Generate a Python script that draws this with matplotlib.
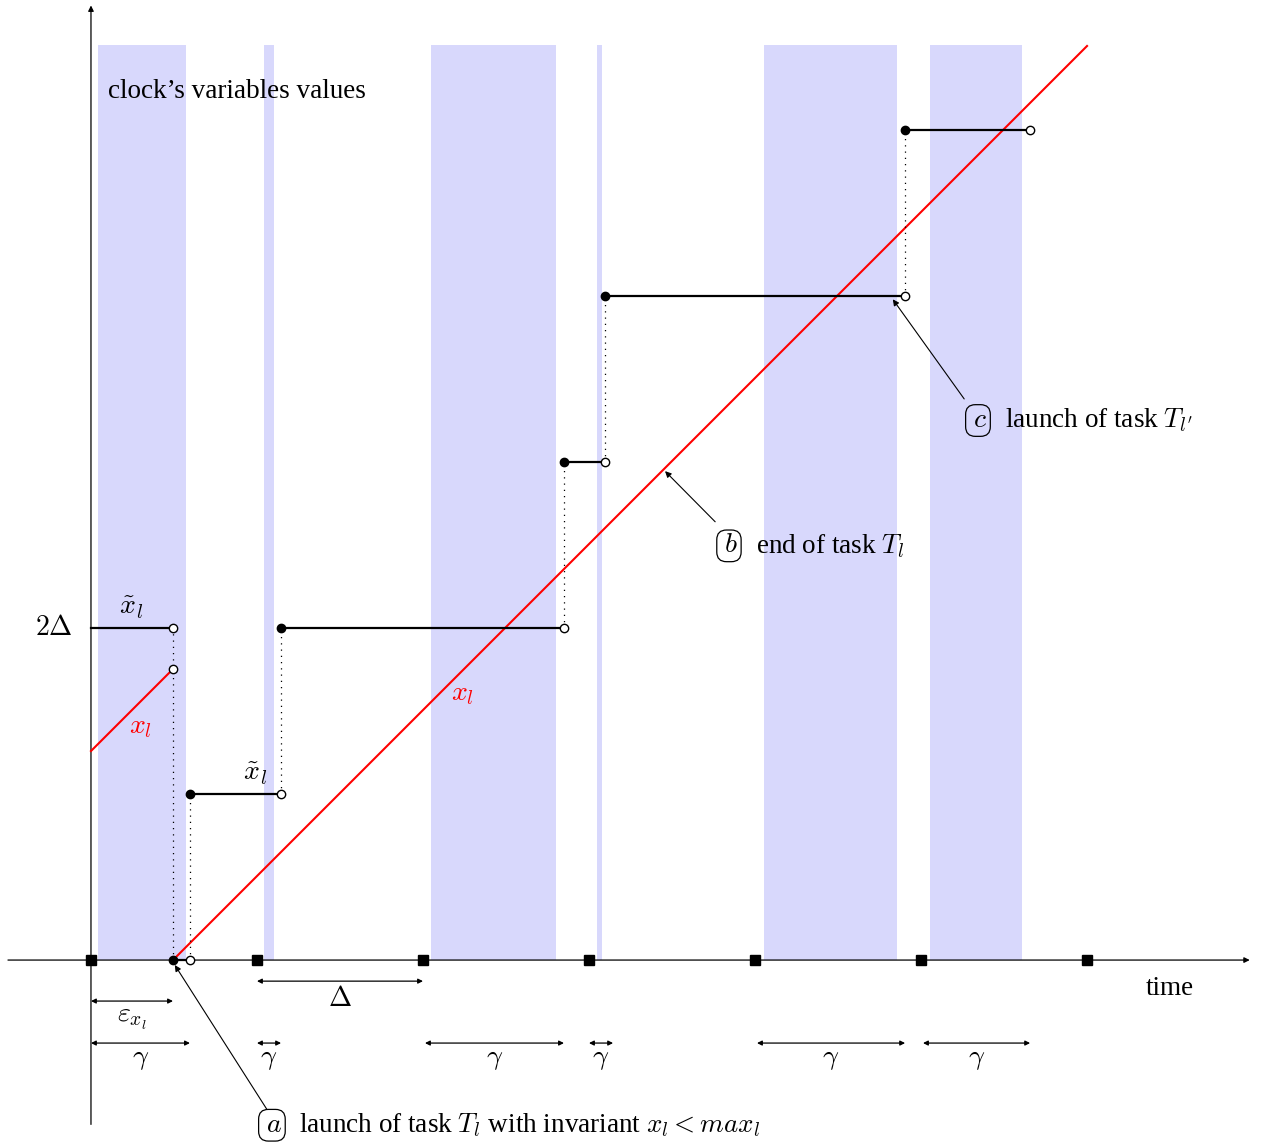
import matplotlib
matplotlib.use("Agg")
import matplotlib.pyplot as plt

plt.rcParams['font.family'] = ['Liberation Serif', 'DejaVu Serif']
plt.rcParams['mathtext.fontset'] = 'cm'

# time unit = Delta
tick_times = [0, 1, 2, 3, 4, 5, 6]
bands = [(0.042, 0.572), (1.042, 1.102), (2.048, 2.801),
         (3.048, 3.078), (4.054, 4.855), (5.054, 5.608)]
band_top = 5.51

# red clock x_l
red_old_t = [0.0, 0.494]
red_old_v = [1.259, 1.753]
red_new_t = [0.494, 6.0]
red_new_v = [0.0, 5.506]

# steps of x~_l : (start, end, value)
step_start = [0.0, 0.596, 1.145, 2.849, 3.096, 4.904]
step_end = [0.494, 1.145, 2.849, 3.096, 4.904, 5.657]
step_val = [2, 1, 2, 3, 4, 5]

# gamma intervals
gamma_iv = [(0.0, 0.596), (1.0, 1.145), (2.012, 2.849),
            (3.0, 3.145), (4.012, 4.904), (5.012, 5.657)]
eps_iv = (0.0, 0.494)

fig = plt.figure(figsize=(12.66, 11.44), dpi=100)
ax = fig.add_axes([0, 0, 1, 1])
ax.set_xlim(-0.548, 7.078)
ax.set_ylim(-1.108, 5.783)
ax.axis('off')

for a, b in bands:
    ax.fill_between([a, b], 0, band_top, color='#d8d8fc', lw=0, zorder=0)

# axes arrows
ax.annotate('', xy=(6.98, 0), xytext=(-0.5, 0),
            arrowprops=dict(arrowstyle='-|>', lw=0.9, color='black',
                            mutation_scale=8, shrinkA=0, shrinkB=0), zorder=2)
ax.annotate('', xy=(0, 5.75), xytext=(0, -0.99),
            arrowprops=dict(arrowstyle='-|>', lw=0.9, color='black',
                            mutation_scale=8, shrinkA=0, shrinkB=0), zorder=2)
ax.plot(tick_times, [0] * len(tick_times), 's', color='black', ms=7, zorder=3)

# red lines
ax.plot(red_old_t, red_old_v, color='red', lw=1.5, zorder=3)
ax.plot(red_new_t, red_new_v, color='red', lw=1.5, zorder=3)

# steps
for s, e, v in zip(step_start, step_end, step_val):
    ax.plot([s, e], [v, v], color='black', lw=1.6, zorder=4)
    if s > 0:
        ax.plot(s, v, 'o', color='black', ms=6, zorder=5)
    ax.plot(e, v, 'o', mfc='white', mec='black', mew=1, ms=6, zorder=5)
# reset segment on time axis
ax.plot([0.494, 0.596], [0, 0], color='black', lw=1.6, zorder=4)
ax.plot(0.494, 0, 'o', color='black', ms=6, zorder=5)
ax.plot(0.596, 0, 'o', mfc='white', mec='black', mew=1, ms=6, zorder=5)
ax.plot(0.494, 1.753, 'o', mfc='white', mec='black', mew=1, ms=6, zorder=5)

# dotted verticals
dots = [(0.494, 0, 2), (0.596, 0, 1), (1.145, 1, 2), (2.849, 2, 3),
        (3.096, 3, 4), (4.904, 4, 5)]
for x, y0, y1 in dots:
    ax.plot([x, x], [y0, y1], color='black', lw=0.9, ls=(0, (1, 4)), zorder=3)

fs = 19.5
ms_ = 20
ax.text(0.1, 5.23, "clock\u2019s variables values", fontsize=fs, ha='left', va='center')
ax.text(-0.108, 2.0, r'$2\Delta$', fontsize=ms_, ha='right', va='center')
ax.text(6.5, -0.17, 'time', fontsize=fs, ha='center', va='center')
ax.text(0.24, 2.12, r'$\tilde{x}_l$', fontsize=ms_, ha='center', va='center')
ax.text(0.99, 1.12, r'$\tilde{x}_l$', fontsize=ms_, ha='center', va='center')
ax.text(0.3, 1.4, r'$x_l$', fontsize=ms_, ha='center', va='center', color='red')
ax.text(2.24, 1.6, r'$x_l$', fontsize=ms_, ha='center', va='center', color='red')

# dimension arrows
def dim(a, b, y, label, ly):
    ax.annotate('', xy=(b, y), xytext=(a, y),
                arrowprops=dict(arrowstyle='<|-|>', lw=0.9, color='black',
                                mutation_scale=7, shrinkA=0, shrinkB=0))
    ax.text((a + b) / 2, ly, label, fontsize=ms_, ha='center', va='center')

dim(eps_iv[0], eps_iv[1], -0.247, r'$\varepsilon_{x_l}$', -0.36)
dim(1.0, 2.0, -0.127, r'$\Delta$', -0.24)
for a, b in gamma_iv:
    dim(a, b, -0.5, r'$\gamma$', -0.6)

# callouts
def callout(letter, text, lx, ly, tx, ty, sx, sy):
    ax.text(lx, ly, r'$\,' + letter + r'\,$', fontsize=ms_, ha='center', va='center',
            bbox=dict(boxstyle='round,pad=0.12,rounding_size=0.35', fc='none',
                      ec='black', lw=0.9), zorder=6)
    ax.text(lx + 0.165, ly, text, fontsize=fs, ha='left', va='center', zorder=6)
    ax.annotate('', xy=(tx, ty), xytext=(sx, sy),
                arrowprops=dict(arrowstyle='-|>', lw=0.8, color='black',
                                mutation_scale=9, shrinkA=0, shrinkB=0), zorder=6)

callout('a', r'launch of task $T_l$ with invariant $x_l < max_l$',
        1.09, -0.995, 0.505, -0.03, 1.06, -0.9)
callout('b', r'end of task $T_l$', 3.843, 2.495, 3.458, 2.945, 3.76, 2.64)
callout('c', r"launch of task $T_{l'}$", 5.343, 3.25, 4.83, 3.98, 5.26, 3.38)

fig.savefig('out.png', dpi=100)
